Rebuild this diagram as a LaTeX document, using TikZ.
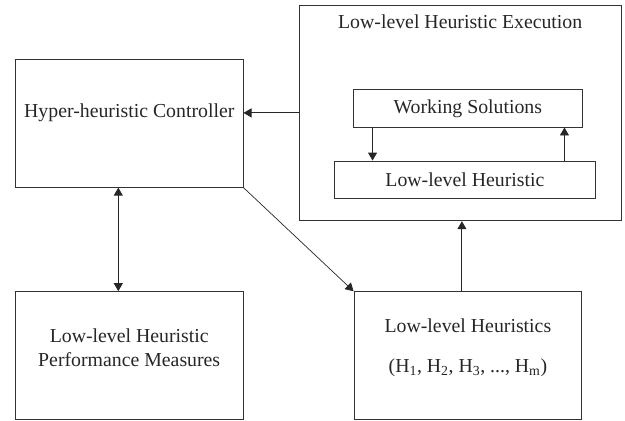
\documentclass[tikz,border=0pt]{standalone}
\usepackage{fontspec}
\setmainfont{Liberation Serif}
\usetikzlibrary{arrows.meta}

\begin{document}
\begin{tikzpicture}[x=1pt,y=-1pt,
  box/.style={draw=black!80,line width=0.9pt,inner sep=0pt},
  caption/.style={font=\fontsize{19.8}{24}\selectfont,align=center,text=black!85},
  arrow/.style={-{Triangle[length=8pt,width=9pt]},line width=0.9pt,draw=black!85}]
\useasboundingbox (0,0) rectangle (625,421);
% left column
\node[box,minimum width=227.5pt,minimum height=128pt,
  label={[caption,yshift=10pt]center:Hyper-heuristic Controller}] (ctrl) at (129.3,123.2) {};
\node[box,minimum width=227.5pt,minimum height=128pt,
  label={[caption,yshift=8pt]center:Low-level Heuristic\\Performance Measures}] (perf) at (129.2,355.6) {};
% right column
\node[box,minimum width=321.7pt,minimum height=215.7pt,
  label={[caption,anchor=north,yshift=-7pt]north:Low-level Heuristic Execution}] (exec) at (460.2,112.9) {};
\node[box,minimum width=229pt,minimum height=38pt,
  label={[caption,yshift=-1pt]center:Working Solutions}] (work) at (467.8,108) {};
\node[box,minimum width=261.7pt,minimum height=37pt,
  label={[caption]center:Low-level Heuristic}] (heur) at (464.9,179.5) {};
\node[box,minimum width=227.7pt,minimum height=127.8pt,
  label={[caption,yshift=8pt]center:Low-level Heuristics\\[16pt]
  (H\textsubscript{1}, H\textsubscript{2}, H\textsubscript{3}, ..., H\textsubscript{m})}] (llh) at (467.9,355.6) {};
% connectors
\draw[arrow] (exec.west) -- (exec.west -| ctrl.east);
\draw[arrow,{Triangle[length=8pt,width=9pt]}-{Triangle[length=8pt,width=9pt]}]
  ([xshift=-11pt]ctrl.south) -- ([xshift=-11pt]ctrl.south |- perf.north);
\draw[arrow,line width=0.7pt] (ctrl.south east) -- (llh.north west);
\draw[arrow] ([xshift=-6pt]llh.north) -- ([xshift=-6pt]llh.north |- exec.south);
\draw[arrow] ([xshift=19.7pt]work.south west) -- ([xshift=19.7pt]work.south west |- heur.north);
\draw[arrow] ([xshift=-18.3pt]work.south east |- heur.north) -- ([xshift=-18.3pt]work.south east);
\end{tikzpicture}
\end{document}
